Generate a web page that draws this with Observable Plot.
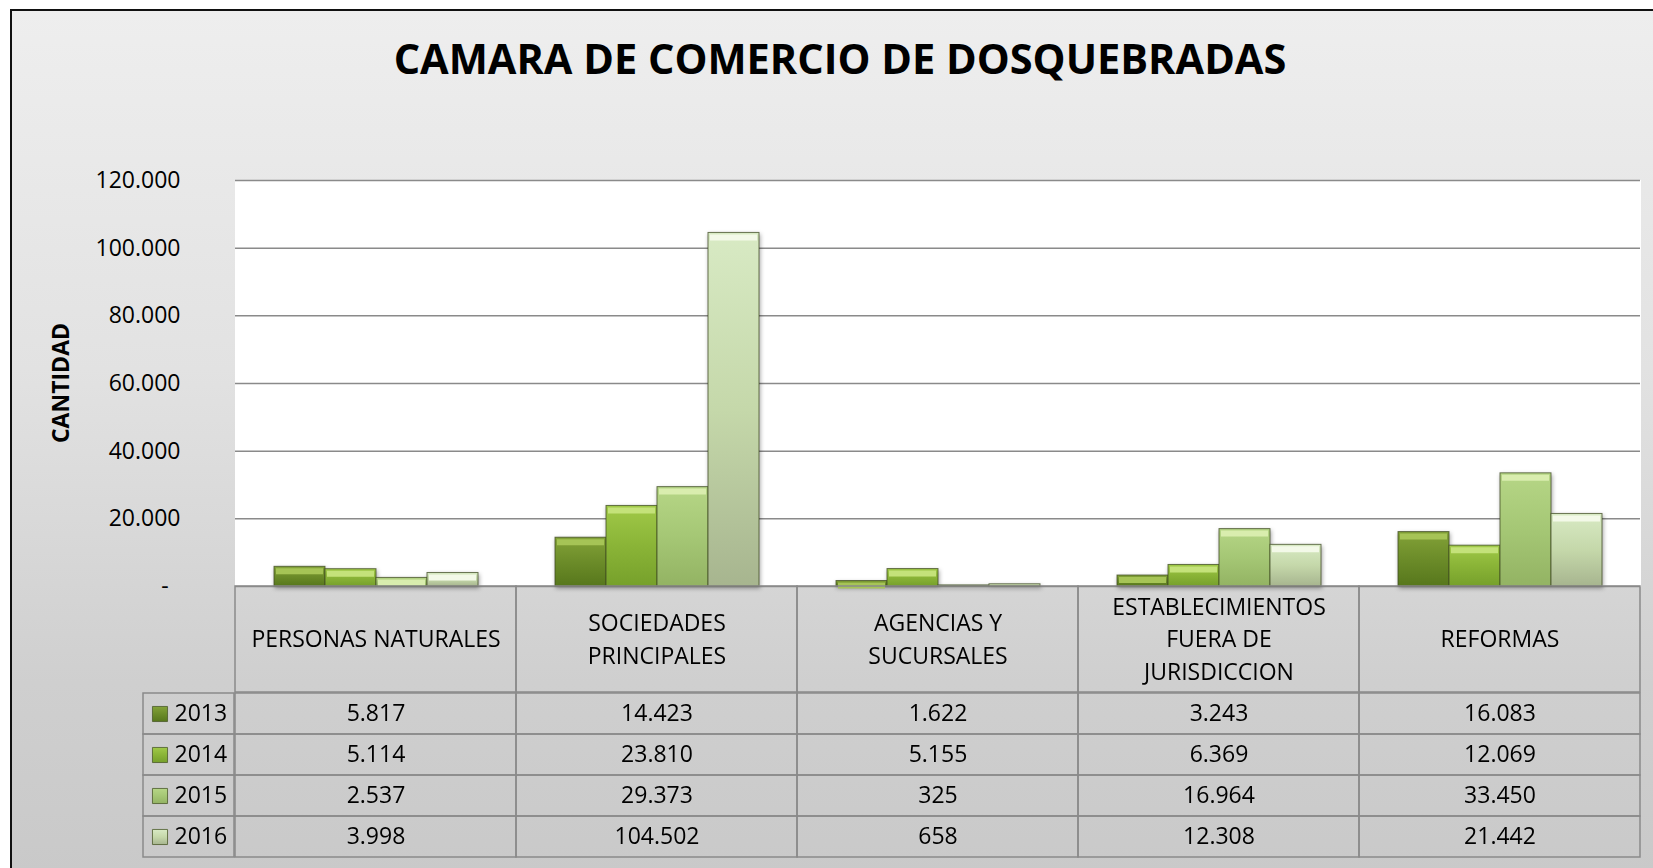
<!DOCTYPE html>
<html><head><meta charset="utf-8">
<script src="https://cdn.jsdelivr.net/npm/d3@7"></script>
<script src="https://cdn.jsdelivr.net/npm/@observablehq/plot@0.6"></script>
<style>
html,body{margin:0;padding:0;background:#fff;width:1653px;height:868px;overflow:hidden;font-family:"Open Sans",sans-serif;}
#frame{position:absolute;left:10px;top:9px;width:1700px;height:900px;border:2px solid #111;box-sizing:border-box;background:linear-gradient(to bottom,#eeeeee 0%,#e2e2e2 40%,#cfcfcf 75%,#c8c8c8 100%);}
#title{position:absolute;left:0;width:1680px;top:37px;text-align:center;font-weight:700;font-size:41.5px;line-height:42px;color:#000;font-family:"Open Sans",sans-serif;}
#ylabel{position:absolute;left:60px;top:383px;transform:translate(-50%,-50%) rotate(-90deg);font-weight:700;font-size:23px;line-height:23px;white-space:nowrap;color:#000;font-family:"Open Sans",sans-serif;}
.abs{position:absolute;}
</style></head><body>
<div id="frame"></div>
<div id="title">CAMARA DE COMERCIO DE DOSQUEBRADAS</div>
<div id="chart" class="abs" style="left:0;top:0"></div>
<div id="ylabel"></div>
<div id="header" class="abs" style="left:234px;top:586px"></div>
<div id="rows" class="abs" style="left:234px;top:692px"></div>
<div id="legend" class="abs" style="left:143px;top:692px"></div>
<script>
// ---- data ----
const categories = ["PERSONAS NATURALES", "SOCIEDADES PRINCIPALES", "AGENCIAS Y SUCURSALES", "ESTABLECIMIENTOS FUERA DE JURISDICCION", "REFORMAS"];
const categoryLabels = ["PERSONAS NATURALES", "SOCIEDADES\nPRINCIPALES", "AGENCIAS Y\nSUCURSALES", "ESTABLECIMIENTOS\nFUERA DE\nJURISDICCION", "REFORMAS"];
const years = ["2013", "2014", "2015", "2016"];
const values2013 = [5817, 14423, 1622, 3243, 16083];
const values2014 = [5114, 23810, 5155, 6369, 12069];
const values2015 = [2537, 29373, 325, 16964, 33450];
const values2016 = [3998, 104502, 658, 12308, 21442];
const yTicks = [0, 20000, 40000, 60000, 80000, 100000, 120000];
const yLabel = "CANTIDAD";

// ---- styles ----
const gradStops = {
  "2013": ["#83a238", "#6c8c29", "#57771c"],
  "2014": ["#a0c948", "#8ab437", "#76a02b"],
  "2015": ["#b6d686", "#a5c775", "#93b363"],
  "2016": ["#d8eac4", "#c5d8aa", "#a7b58f"]
};
const highlight = {"2013": "#a6c456", "2014": "#c4e27a", "2015": "#d9edae", "2016": "#f3f9e8"};
const lineColor = "#8a8a8a";
const font = "'Open Sans', sans-serif";

document.getElementById("ylabel").textContent = yLabel;

const series = [values2013, values2014, values2015, values2016];
const data = categories.flatMap((c, i) => years.map((y, j) => ({cat: c, year: y, value: series[j][i]})));
const fmt = d3.formatLocale({decimal: ",", thousands: ".", grouping: [3], currency: ["$", ""]}).format(",d");
const colorScale = {domain: years, range: years.map(y => `url(#g${y})`)};

const chart = Plot.plot({
  width: 1653, height: 596,
  marginLeft: 234, marginRight: 12, marginTop: 180, marginBottom: 10,
  style: {fontFamily: font, fontSize: "23px", color: "#000", background: "transparent", overflow: "visible"},
  fx: {domain: categories, padding: 0, axis: null},
  x: {domain: years, paddingInner: 0, paddingOuter: 0.72, axis: null},
  y: {domain: [0, 120000], axis: null},
  color: colorScale,
  marks: [
    Plot.frame({fill: "white", stroke: "white", strokeWidth: 1}),
    Plot.gridY(yTicks, {stroke: lineColor, strokeOpacity: 1, strokeWidth: 1.5}),
    Plot.axisY(yTicks, {line: true, stroke: lineColor, strokeWidth: 1.5, tickSize: 0, tickPadding: 55,
      tickFormat: d => d === 0 ? "-\u00a0\u00a0" : fmt(d), fontSize: 23, fill: "#000", label: null}),
    Plot.barY(data, {fx: "cat", x: "year", y: "value", fill: "year", stroke: "#3d4a22", strokeWidth: 1, strokeOpacity: 0.75}),
    ...years.map(y => Plot.tickY(data.filter(d => d.year === y && d.value > 1500),
      {fx: "cat", x: "year", y: "value", stroke: highlight[y], strokeWidth: 6, dy: 4.5, insetLeft: 2, insetRight: 2}))
  ]
});

function addDefs(svg) {
  const defs = d3.select(svg).insert("defs", ":first-child");
  for (const y of years) {
    const g = defs.append("linearGradient").attr("id", `g${y}`).attr("x1", 0).attr("y1", 0).attr("x2", 0).attr("y2", 1);
    gradStops[y].forEach((c, k) => g.append("stop").attr("offset", k / 2).attr("stop-color", c));
  }
}
addDefs(chart);
d3.select(chart).selectAll('g[aria-label="bar"]').style("filter", "drop-shadow(1px 2px 2px rgba(0,0,0,0.35))");
document.getElementById("chart").appendChild(chart);

const header = Plot.plot({
  width: 1407, height: 106, margin: 0,
  style: {fontFamily: font, fontSize: "23px", color: "#000", background: "transparent", overflow: "visible"},
  x: {domain: categories, padding: 0, axis: null},
  marks: [
    Plot.cell(categories, {x: d => d, stroke: lineColor, strokeWidth: 1.5, fill: "none"}),
    Plot.text(categories, {x: d => d, text: (d, i) => categoryLabels[i], fontSize: 23, lineHeight: 1.42, dy: -2.5, fill: "#000"})
  ]
});
document.getElementById("header").appendChild(header);

const rows = Plot.plot({
  width: 1407, height: 166, margin: 0,
  style: {fontFamily: font, fontSize: "23px", color: "#000", background: "transparent", overflow: "visible"},
  x: {domain: categories, padding: 0, axis: null},
  y: {domain: years, padding: 0, axis: null},
  marks: [
    Plot.cell(data, {x: "cat", y: "year", stroke: lineColor, strokeWidth: 1.5, fill: "none"}),
    Plot.text(data, {x: "cat", y: "year", text: d => fmt(d.value), fontSize: 23, fill: "#000"})
  ]
});
document.getElementById("rows").appendChild(rows);

const legend = Plot.plot({
  width: 91, height: 166, margin: 0,
  style: {fontFamily: font, fontSize: "23px", color: "#000", background: "transparent", overflow: "visible"},
  y: {domain: years, padding: 0, axis: null},
  color: colorScale,
  marks: [
    Plot.cell(years, {y: d => d, stroke: lineColor, strokeWidth: 1.5, fill: "none"}),
    Plot.dot(years, {y: d => d, frameAnchor: "left", dx: 16.5, symbol: "square", r: 8.5, fill: d => d, stroke: "#4a5a2a", strokeWidth: 0.8}),
    Plot.text(years, {y: d => d, text: d => d, frameAnchor: "left", dx: 31, textAnchor: "start", fontSize: 23, fill: "#000"})
  ]
});
document.getElementById("legend").appendChild(legend);
</script>
</body></html>
